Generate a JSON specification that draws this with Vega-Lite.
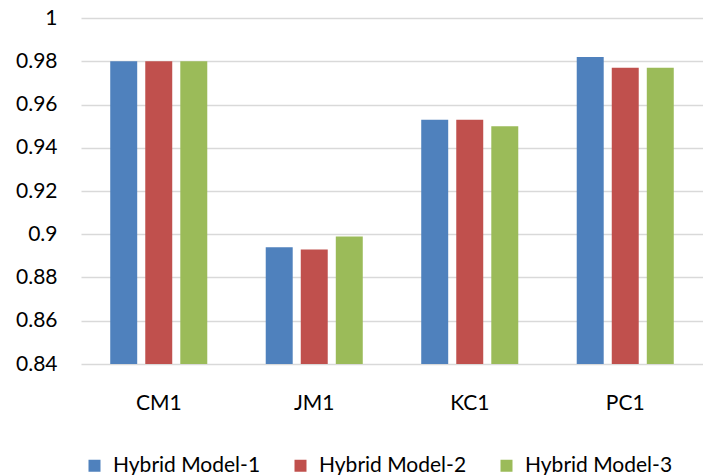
{
  "$schema": "https://vega.github.io/schema/vega-lite/v6.json",
  "width": 622,
  "height": 346,
  "autosize": {"type": "none"},
  "padding": {"left": 81, "top": 18, "right": 0, "bottom": 111},
  "background": "white",
  "config": {
    "font": "Lato",
    "view": {"stroke": null}
  },
  "data": {
    "values": [
      {"dataset": "CM1", "model": "Hybrid Model-1", "score": 0.980},
      {"dataset": "CM1", "model": "Hybrid Model-2", "score": 0.980},
      {"dataset": "CM1", "model": "Hybrid Model-3", "score": 0.980},
      {"dataset": "JM1", "model": "Hybrid Model-1", "score": 0.894},
      {"dataset": "JM1", "model": "Hybrid Model-2", "score": 0.893},
      {"dataset": "JM1", "model": "Hybrid Model-3", "score": 0.899},
      {"dataset": "KC1", "model": "Hybrid Model-1", "score": 0.953},
      {"dataset": "KC1", "model": "Hybrid Model-2", "score": 0.953},
      {"dataset": "KC1", "model": "Hybrid Model-3", "score": 0.950},
      {"dataset": "PC1", "model": "Hybrid Model-1", "score": 0.982},
      {"dataset": "PC1", "model": "Hybrid Model-2", "score": 0.977},
      {"dataset": "PC1", "model": "Hybrid Model-3", "score": 0.977}
    ]
  },
  "mark": {"type": "bar", "clip": true},
  "encoding": {
    "x": {
      "field": "dataset",
      "type": "nominal",
      "sort": ["CM1", "JM1", "KC1", "PC1"],
      "scale": {"paddingInner": 0.376, "paddingOuter": 0.188},
      "axis": {
        "title": null,
        "domain": false,
        "ticks": false,
        "labelAngle": 0,
        "labelFontSize": 21,
        "labelColor": "#000000",
        "labelPadding": 28,
        "labelBaseline": "top"
      }
    },
    "xOffset": {
      "field": "model",
      "type": "nominal",
      "scale": {"paddingInner": 0.23, "paddingOuter": 0}
    },
    "y": {
      "field": "score",
      "type": "quantitative",
      "scale": {"domain": [0.84, 1], "zero": false, "nice": false},
      "axis": {
        "title": null,
        "values": [0.84, 0.86, 0.88, 0.9, 0.92, 0.94, 0.96, 0.98, 1],
        "format": ".2~f",
        "domain": false,
        "ticks": false,
        "grid": true,
        "gridColor": "#d9d9d9",
        "gridWidth": 1.3,
        "labelFontSize": 21,
        "labelColor": "#000000",
        "labelPadding": 24
      }
    },
    "color": {
      "field": "model",
      "type": "nominal",
      "scale": {
        "domain": ["Hybrid Model-1", "Hybrid Model-2", "Hybrid Model-3"],
        "range": ["#4f81bd", "#c0504d", "#9bbb59"]
      },
      "legend": {
        "title": null,
        "orient": "none",
        "legendX": 3,
        "legendY": 437,
        "padding": 0,
        "direction": "horizontal",
        "columns": 3,
        "symbolType": "square",
        "symbolSize": 144,
        "symbolStrokeWidth": 0,
        "labelFontSize": 21,
        "labelColor": "#000000",
        "labelOffset": 8,
        "labelLimit": 300,
        "columnPadding": 29
      }
    }
  }
}
